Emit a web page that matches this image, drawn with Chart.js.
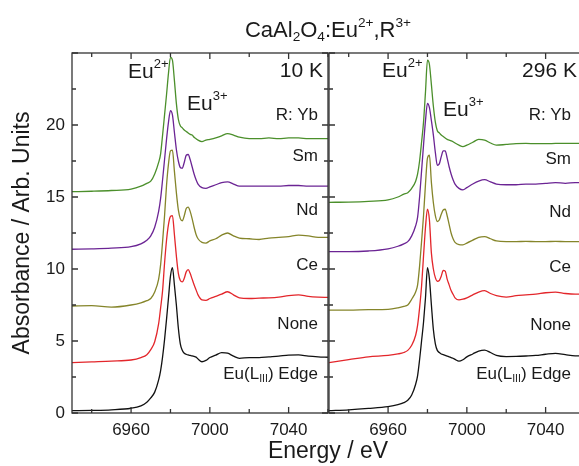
<!DOCTYPE html>
<html>
<head>
<meta charset="utf-8">
<script src="https://cdn.jsdelivr.net/npm/chart.js@4.4.1/dist/chart.umd.min.js"></script>
<style>
  body { margin: 0; width: 579px; height: 466px; overflow: hidden; background: #fff; position: relative;
         font-family: "Liberation Sans", Arial, sans-serif; color: #1a1a1a; }
  canvas { position: absolute; top: 0; }
  #c10 { left: 0; }
  #c296 { left: 328px; }
  .txt { position: absolute; white-space: nowrap; line-height: 1; }
  .txt sup, .txt sub { font-size: 62%; line-height: 0; }
  .txt sup { vertical-align: 0.75em; }
  .txt sub { vertical-align: -0.3em; }
  .r { transform: translateX(-100%); }
  .c { transform: translateX(-50%); }
</style>
</head>
<body>
<canvas id="c10" width="329" height="466"></canvas>
<canvas id="c296" width="257" height="466"></canvas>
<div id="labels"></div>
<script>
// energie (eV), gemeinsames Raster fuer alle Spektren
const energy = [6930, 6940, 6950, 6960, 6965, 6968, 6970, 6972, 6974,
  6975, 6976, 6977, 6978, 6979, 6980, 6981, 6982, 6983, 6984, 6985, 6986, 6987, 6988, 6989, 6990, 6991, 6992, 6993, 6994,
  6996, 6998, 7000, 7003, 7006, 7009, 7012, 7015,
  7020, 7025, 7030, 7035, 7040, 7045, 7050, 7055, 7060];

// 10 K (mit Offset wie im Bild)
const yb10 = [15.37, 15.4, 15.45, 15.55, 15.75, 15.95, 16.1, 16.6, 17.4,
  18.0, 19.3, 20.7, 22.1, 23.6, 24.7, 24.5, 23.1, 21.5, 20.4, 19.95, 19.8, 19.65, 19.55, 19.45, 19.35, 19.3, 19.15, 19.05, 18.95,
  18.85, 18.95, 19.0, 19.1, 19.25, 19.4, 19.3, 19.15,
  19.05, 19.05, 19.1, 19.05, 19.1, 19.1, 19.05, 19.05, 19.05];
const sm10 = [11.37, 11.4, 11.45, 11.55, 11.75, 12.0, 12.3, 12.9, 14.0,
  14.9, 16.2, 17.6, 19.0, 20.2, 21.0, 20.7, 19.5, 18.3, 17.5, 17.05, 17.0, 17.4, 17.9, 17.95, 17.6, 17.1, 16.6, 16.2, 15.9,
  15.65, 15.6, 15.7, 15.85, 16.0, 16.05, 15.9, 15.75,
  15.75, 15.75, 15.75, 15.75, 15.8, 15.8, 15.75, 15.75, 15.75];
const nd10 = [7.43, 7.45, 7.35, 7.5, 7.65, 7.8, 7.95, 8.4, 9.3,
  10.3, 11.9, 13.7, 15.8, 17.3, 18.2, 18.25, 16.8, 15.3, 14.1, 13.5, 13.35, 13.7, 14.2, 14.3, 14.0, 13.5, 12.9, 12.4, 12.1,
  11.85, 11.8, 11.95, 12.1, 12.35, 12.5, 12.3, 12.15,
  12.1, 12.05, 12.15, 12.2, 12.25, 12.35, 12.3, 12.2, 12.2];
const ce10 = [3.5, 3.55, 3.6, 3.68, 3.85, 4.05, 4.4, 4.95, 6.2,
  7.3, 8.5, 10.4, 12.0, 13.1, 13.65, 13.7, 12.4, 10.9, 9.7, 9.2, 9.1, 9.35, 9.8, 9.95, 9.7, 9.3, 8.9, 8.55, 8.2,
  7.85, 7.82, 7.95, 8.1, 8.25, 8.42, 8.2, 8.0,
  7.95, 7.98, 8.0, 8.05, 8.15, 8.2, 8.1, 8.05, 8.03];
const none10 = [0.16, 0.18, 0.22, 0.33, 0.5, 0.75, 1.05, 1.45, 2.3,
  2.95, 3.9, 5.1, 6.5, 8.0, 9.5, 10.1, 8.9, 7.5, 5.9, 4.8, 4.35, 4.15, 4.08, 4.03, 4.0, 3.97, 3.93, 3.88, 3.75,
  3.56, 3.65, 3.85, 4.02, 4.19, 4.15, 3.95, 3.8,
  3.85, 3.85, 3.9, 3.95, 4.02, 4.03, 3.95, 3.9, 3.87];

// 296 K
const yb296 = [14.63, 14.65, 14.7, 14.8, 15.0, 15.2, 15.3, 15.6, 16.1,
  16.6, 17.5, 18.8, 20.2, 22.3, 24.5, 24.2, 22.8, 21.3, 20.2, 19.6, 19.45, 19.3, 19.2, 19.1, 19.0, 18.95, 18.9, 18.84, 18.75,
  18.6, 18.5, 18.6, 18.8, 19.0, 18.95, 18.75, 18.6,
  18.65, 18.7, 18.72, 18.7, 18.7, 18.72, 18.73, 18.73, 18.73];
const sm296 = [11.2, 11.2, 11.25, 11.4, 11.58, 11.75, 11.9, 12.3, 13.0,
  13.6, 15.0, 16.8, 18.6, 20.3, 21.5, 21.2, 20.3, 19.3, 18.1, 17.2, 17.3, 17.8, 18.2, 18.2, 17.7, 17.1, 16.6, 16.2, 15.9,
  15.6, 15.5, 15.65, 15.9, 16.1, 16.2, 16.05, 15.9,
  15.85, 15.85, 15.9, 15.9, 15.95, 16.0, 15.95, 16.0, 16.0];
const nd296 = [7.15, 7.15, 7.18, 7.2, 7.3, 7.4, 7.5, 7.9, 8.4,
  8.9, 10.2, 11.9, 13.7, 15.9, 17.7, 17.9, 16.0, 14.6, 13.7, 13.3, 13.4, 13.8, 14.1, 14.15, 13.7, 13.1, 12.5, 12.1, 11.85,
  11.7, 11.68, 11.8, 12.0, 12.2, 12.25, 12.1, 11.95,
  11.9, 11.9, 11.92, 11.9, 11.9, 11.92, 11.9, 11.9, 11.9];
const ce296 = [3.5, 3.7, 3.9, 4.0, 4.1, 4.2, 4.35, 4.7, 5.4,
  6.1, 7.3, 8.8, 10.9, 12.9, 14.15, 13.4, 11.1, 10.0, 9.4, 9.15, 9.2, 9.5, 9.9, 9.85, 9.3, 8.9, 8.5, 8.25, 8.0,
  7.85, 7.9, 8.0, 8.2, 8.4, 8.5, 8.3, 8.15,
  8.05, 8.15, 8.2, 8.25, 8.35, 8.4, 8.3, 8.25, 8.25];
const none296 = [0.16, 0.22, 0.32, 0.45, 0.58, 0.72, 0.88, 1.25, 2.0,
  2.6, 3.7, 5.0, 6.3, 8.0, 10.1, 9.3, 7.5, 5.8, 4.8, 4.35, 4.2, 4.1, 4.05, 4.0, 3.95, 3.9, 3.85, 3.8, 3.72,
  3.6, 3.7, 3.9, 4.1, 4.3, 4.37, 4.2, 4.0,
  3.92, 3.93, 3.96, 4.0, 4.08, 4.14, 4.05, 3.97, 3.96];

const xTicks = [6960, 7000, 7040];
const xMinor = [6940, 6980, 7020, 7060];
const yTicks = [0, 5, 10, 15, 20];
const yMajorMarks = [0, 5, 10, 15, 20, 25];
const yMinor = [2.5, 7.5, 12.5, 17.5, 22.5];

const colors = { yb: '#4b8f2b', sm: '#6b2494', nd: '#85852a', ce: '#e3262b', none: '#111111' };

Chart.defaults.font.family = '"Liberation Sans", Arial, sans-serif';
Chart.defaults.color = '#1a1a1a';

// Rahmen und nach innen zeigende Ticks (alle vier Seiten)
const frameTicks = {
  id: 'frameTicks',
  afterDraw(chart) {
    const { ctx, chartArea: a, scales: { x, y } } = chart;
    ctx.save();
    ctx.strokeStyle = '#333';
    ctx.lineWidth = 1.3;
    ctx.strokeRect(a.left, a.top, a.right - a.left, a.bottom - a.top);
    ctx.beginPath();
    const xt = (v, len) => {
      const px = x.getPixelForValue(v);
      ctx.moveTo(px, a.bottom); ctx.lineTo(px, a.bottom - len);
      ctx.moveTo(px, a.top); ctx.lineTo(px, a.top + len);
    };
    const yt = (v, len) => {
      const py = y.getPixelForValue(v);
      ctx.moveTo(a.left, py); ctx.lineTo(a.left + len, py);
      ctx.moveTo(a.right, py); ctx.lineTo(a.right - len, py);
    };
    xTicks.forEach(v => xt(v, 6));
    xMinor.forEach(v => xt(v, 4));
    yMajorMarks.forEach(v => yt(v, 6));
    yMinor.forEach(v => yt(v, 4));
    ctx.stroke();
    ctx.restore();
  }
};

function makeChart(id, series, o) {
  const datasets = series.map(s => ({
    data: energy.map((e, i) => ({ x: e, y: s.values[i] })),
    borderColor: s.color,
    borderWidth: 1.3,
    pointRadius: 0,
    cubicInterpolationMode: 'monotone',
    fill: false,
  }));
  return new Chart(document.getElementById(id), {
    type: 'line',
    data: { datasets },
    options: {
      responsive: false,
      animation: false,
      layout: { padding: { top: 53, left: o.padLeft, right: o.padRight, bottom: 0 } },
      plugins: { legend: { display: false }, tooltip: { enabled: false } },
      scales: {
        x: {
          type: 'linear', min: 6930, max: 7060,
          grid: { display: false, drawTicks: false },
          border: { display: false },
          ticks: { font: { size: 17 }, padding: 7, maxRotation: 0, callback: v => String(v) },
          afterBuildTicks: s => { s.ticks = xTicks.map(v => ({ value: v })); },
          afterFit: s => { s.height = 53; },
        },
        y: {
          type: 'linear', min: 0, max: 25,
          grid: { display: false, drawTicks: false },
          border: { display: false },
          ticks: { display: o.yLabels, font: { size: 17 }, padding: 7, callback: v => String(v) },
          afterBuildTicks: s => { s.ticks = yTicks.map(v => ({ value: v })); },
          afterFit: s => { s.width = o.yWidth; },
          title: {
            display: o.yLabels,
            text: 'Absorbance / Arb. Units',
            font: { size: 23 },
            padding: { top: 9, bottom: 0 },
          },
        },
      },
    },
    plugins: [frameTicks],
  });
}

makeChart('c10', [
  { values: none10, color: colors.none },
  { values: ce10, color: colors.ce },
  { values: nd10, color: colors.nd },
  { values: sm10, color: colors.sm },
  { values: yb10, color: colors.yb },
], { padLeft: 0, padRight: 1, yWidth: 72, yLabels: true });

makeChart('c296', [
  { values: none296, color: colors.none },
  { values: ce296, color: colors.ce },
  { values: nd296, color: colors.nd },
  { values: sm296, color: colors.sm },
  { values: yb296, color: colors.yb },
], { padLeft: 1, padRight: 0, yWidth: 0, yLabels: false });

// Beschriftungen: [html, x, baseline, size, align]
const labels = [
  ['CaAl<sub>2</sub>O<sub>4</sub>:Eu<sup>2+</sup>,R<sup>3+</sup>', 328, 38, 22, 'c'],
  ['Energy / eV', 328, 459, 23, 'c'],
  ['Eu<sup>2+</sup>', 128, 78, 21, 'l'],
  ['Eu<sup>3+</sup>', 187, 110, 21, 'l'],
  ['10 K', 323, 77, 21, 'r'],
  ['R: Yb', 318, 120, 17, 'r'],
  ['Sm', 318, 161, 17, 'r'],
  ['Nd', 318, 215, 17, 'r'],
  ['Ce', 318, 270, 17, 'r'],
  ['None', 318, 329, 17, 'r'],
  ['Eu(L<sub>III</sub>) Edge', 318, 379, 17, 'r'],
  ['Eu<sup>2+</sup>', 382, 77, 21, 'l'],
  ['Eu<sup>3+</sup>', 443, 116, 21, 'l'],
  ['296 K', 577, 77, 21, 'r'],
  ['R: Yb', 571, 120, 17, 'r'],
  ['Sm', 571, 164, 17, 'r'],
  ['Nd', 571, 217, 17, 'r'],
  ['Ce', 571, 272, 17, 'r'],
  ['None', 571, 330, 17, 'r'],
  ['Eu(L<sub>III</sub>) Edge', 571, 379, 17, 'r'],
];
const box = document.getElementById('labels');
labels.forEach(([html, x, base, size, align]) => {
  const d = document.createElement('div');
  d.className = 'txt' + (align === 'r' ? ' r' : align === 'c' ? ' c' : '');
  d.innerHTML = html;
  d.style.fontSize = size + 'px';
  d.style.left = x + 'px';
  d.style.top = (base - 0.85 * size) + 'px';
  box.appendChild(d);
});
</script>
</body>
</html>
